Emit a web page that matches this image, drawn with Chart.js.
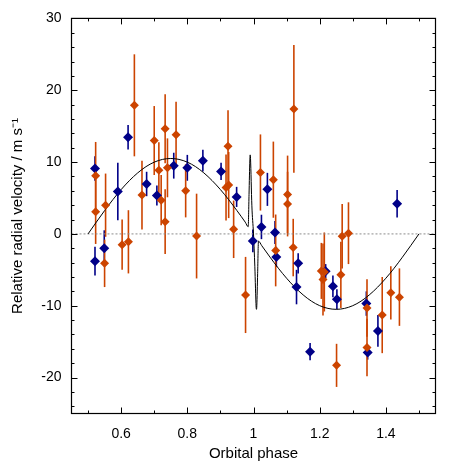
<!DOCTYPE html>
<html>
<head>
<meta charset="utf-8">
<script src="https://cdn.jsdelivr.net/npm/chart.js@4/dist/chart.umd.min.js"></script>
<style>
html,body{margin:0;padding:0;background:#fff;}
canvas{display:block;}
</style>
</head>
<body>
<canvas id="c" width="463" height="463"></canvas>
<script>
// ---- data ----
const bluePhase = [0.521,0.521,0.549,0.590,0.621,0.677,0.708,0.759,0.800,0.847,0.902,0.949,0.998,1.024,1.042,1.065,1.069,1.130,1.135,1.171,1.218,1.240,1.252,1.341,1.345,1.376,1.434];
const blueRV    = [9.1,-3.8,-2.0,5.9,13.45,6.95,5.35,9.5,9.2,10.2,8.7,5.15,-0.97,0.97,6.2,0.2,-3.2,-7.4,-4.1,-16.4,-5.2,-7.3,-9.1,-9.7,-16.5,-13.5,4.2];
const blueErr   = [1.7,2.0,2.5,4.0,1.7,1.7,1.4,1.8,1.8,1.5,1.2,1.4,1.6,1.7,2.3,1.6,1.4,2.4,1.4,1.2,1.0,1.5,1.4,1.7,1.0,2.2,1.9];

const orangePhase = [0.523,0.523,0.550,0.553,0.603,0.622,0.640,0.663,0.700,0.714,0.721,0.733,0.733,0.740,0.766,0.795,0.828,0.923,0.925,0.917,0.940,0.976,1.021,1.060,1.067,1.103,1.103,1.120,1.122,1.205,1.210,1.214,1.251,1.264,1.268,1.287,1.343,1.343,1.389,1.415,1.441];
const orangeRV    = [8.1,3.1,-4.1,4.0,-1.5,-1.1,17.9,5.4,13.0,8.85,4.7,1.7,14.65,9.2,13.8,6.0,-0.3,12.2,6.8,6.45,0.64,-8.5,8.55,7.55,-2.3,5.5,4.15,-1.9,17.4,-5.15,-6.35,-5.3,-18.3,-5.7,-0.33,0.1,-10.3,-15.8,-11.3,-8.2,-8.8];
const orangeErr   = [4.7,4.5,3.3,4.4,3.5,4.4,7.1,4.8,4.8,3.9,3.5,4.5,4.8,4.1,4.6,3.7,5.9,5.0,4.6,4.6,4.0,5.3,5.3,5.3,5.0,5.4,4.5,4.0,8.9,3.9,5.0,5.5,3.0,4.6,4.5,4.3,4.0,4.0,5.3,3.7,4.0];

const modelPhase = [0.500,0.525,0.550,0.575,0.600,0.625,0.650,0.675,0.700,0.725,0.750,0.775,0.800,0.825,0.850,0.875,0.900,0.925,0.950,0.975,0.984,0.9865,0.989,0.990,0.991,0.995,1.000,1.004,1.008,1.009,1.010,1.0125,1.015,1.025,1.050,1.075,1.100,1.125,1.150,1.175,1.200,1.225,1.250,1.275,1.300,1.325,1.350,1.375,1.400,1.425,1.450,1.475,1.500];
const modelRV    = [0.0,1.64,3.24,4.77,6.17,7.42,8.49,9.36,9.99,10.37,10.5,10.37,9.99,9.36,8.49,7.42,6.17,4.77,3.24,1.64,1.0,5.5,10.3,11.0,10.5,4.0,0.0,-4.5,-10.2,-10.5,-10.0,-5.5,-1.0,-1.64,-3.24,-4.77,-6.17,-7.42,-8.49,-9.36,-9.99,-10.37,-10.5,-10.37,-9.99,-9.36,-8.49,-7.42,-6.17,-4.77,-3.24,-1.64,0.0];

const zeroLinePhase = [0.45,1.55];
const zeroLineRV = [0,0];

const xTickValues = [0.6,0.8,1.0,1.2,1.4];
const xTickLabels = ['0.6','0.8','1','1.2','1.4'];
const xMinorTicks = [0.5,0.7,0.9,1.1,1.3,1.5];
const yTickValues = [-20,-10,0,10,20,30];
const yTickLabels = ['-20','-10','0','10','20','30'];
const yMinorTicks = [-24,-22,-18,-16,-14,-12,-8,-6,-4,-2,2,4,6,8,12,14,16,18,22,24,26,28];

// ---- styling ----
const ORANGE = '#CC4400';
const BLUE = '#000088';
const FONT = "'Liberation Sans', Arial, Helvetica, sans-serif";

const zip = (xs, ys) => xs.map((x, i) => ({x: x, y: ys[i]}));

const errorBarPlugin = {
  id: 'errorBars',
  beforeDatasetsDraw(chart) {
    const ctx = chart.ctx;
    const xs = chart.scales.x, ys = chart.scales.y;
    ctx.save();
    chart.data.datasets.forEach((ds) => {
      if (!ds.errors) return;
      ctx.strokeStyle = ds.borderColor;
      ctx.lineWidth = 1.6;
      ds.data.forEach((p, i) => {
        const px = xs.getPixelForValue(p.x);
        const y1 = ys.getPixelForValue(p.y + ds.errors[i]);
        const y2 = ys.getPixelForValue(p.y - ds.errors[i]);
        ctx.beginPath();
        ctx.moveTo(px, y1);
        ctx.lineTo(px, y2);
        ctx.stroke();
      });
    });
    ctx.restore();
  }
};

const framePlugin = {
  id: 'frame',
  afterDatasetsDraw(chart) {
    const ctx = chart.ctx;
    const a = chart.chartArea;
    const xs = chart.scales.x, ys = chart.scales.y;
    ctx.save();
    ctx.strokeStyle = '#000';
    ctx.lineWidth = 1.2;
    ctx.strokeRect(a.left, a.top, a.right - a.left, a.bottom - a.top);
    ctx.lineWidth = 1;
    const major = 6, minor = 3;
    ctx.beginPath();
    const xt = (v, len) => {
      const px = Math.round(xs.getPixelForValue(v)) + 0.5;
      ctx.moveTo(px, a.bottom); ctx.lineTo(px, a.bottom - len);
      ctx.moveTo(px, a.top); ctx.lineTo(px, a.top + len);
    };
    const yt = (v, len) => {
      const py = Math.round(ys.getPixelForValue(v)) + 0.5;
      ctx.moveTo(a.left, py); ctx.lineTo(a.left + len, py);
      ctx.moveTo(a.right, py); ctx.lineTo(a.right - len, py);
    };
    xTickValues.forEach(v => xt(v, major));
    xMinorTicks.forEach(v => xt(v, minor));
    yTickValues.forEach(v => yt(v, major));
    yMinorTicks.forEach(v => yt(v, minor));
    ctx.stroke();
    ctx.restore();
  }
};

new Chart(document.getElementById('c'), {
  type: 'scatter',
  data: {
    datasets: [
      {
        label: 'zero',
        type: 'line',
        data: zip(zeroLinePhase, zeroLineRV),
        borderColor: '#8c8c8c',
        borderWidth: 1,
        borderDash: [2, 2],
        pointRadius: 0,
        fill: false,
        order: 4
      },
      {
        label: 'model',
        type: 'line',
        data: zip(modelPhase, modelRV),
        borderColor: '#000',
        borderWidth: 1,
        pointRadius: 0,
        cubicInterpolationMode: 'monotone',
        fill: false,
        order: 3
      },
      {
        label: 'blue',
        data: zip(bluePhase, blueRV),
        errors: blueErr,
        borderColor: BLUE,
        backgroundColor: BLUE,
        pointStyle: 'rectRot',
        pointRadius: 5,
        pointBorderWidth: 0,
        order: 2
      },
      {
        label: 'orange',
        data: zip(orangePhase, orangeRV),
        errors: orangeErr,
        borderColor: ORANGE,
        backgroundColor: ORANGE,
        pointStyle: 'rectRot',
        pointRadius: 4.5,
        pointBorderWidth: 0,
        order: 1
      }
    ]
  },
  options: {
    responsive: false,
    animation: false,
    devicePixelRatio: 1,
    layout: { padding: { left: 0, right: 27.5, top: 15, bottom: 0 } },
    plugins: { legend: { display: false }, tooltip: { enabled: false } },
    scales: {
      x: {
        type: 'linear',
        min: 0.45,
        max: 1.55,
        afterBuildTicks: (s) => { s.ticks = xTickValues.map(v => ({value: v})); },
        afterFit: (s) => { s.height = 49.5; },
        ticks: {
          padding: 12,
          color: '#000',
          font: { family: FONT, size: 14 },
          maxRotation: 0,
          callback: (v) => { const i = xTickValues.findIndex(t => Math.abs(t - v) < 1e-9); return i >= 0 ? xTickLabels[i] : ''; }
        },
        grid: { display: false, drawTicks: false },
        border: { display: false },
        title: {
          display: true,
          text: 'Orbital phase',
          color: '#000',
          font: { family: FONT, size: 15 },
          padding: { top: 0, bottom: 0 }
        }
      },
      y: {
        type: 'linear',
        min: -25,
        max: 30,
        afterBuildTicks: (s) => { s.ticks = yTickValues.map(v => ({value: v})); },
        afterFit: (s) => { s.width = 71.5; },
        ticks: {
          padding: 10,
          color: '#000',
          font: { family: FONT, size: 14 },
          callback: (v) => { const i = yTickValues.indexOf(v); return i >= 0 ? yTickLabels[i] : ''; }
        },
        grid: { display: false, drawTicks: false },
        border: { display: false },
        title: {
          display: true,
          text: 'Relative radial velocity / m s\u207B\u00B9',
          color: '#000',
          font: { family: FONT, size: 15 },
          padding: { top: 8.5, bottom: 0 }
        }
      }
    }
  },
  plugins: [errorBarPlugin, framePlugin]
});
</script>
</body>
</html>
